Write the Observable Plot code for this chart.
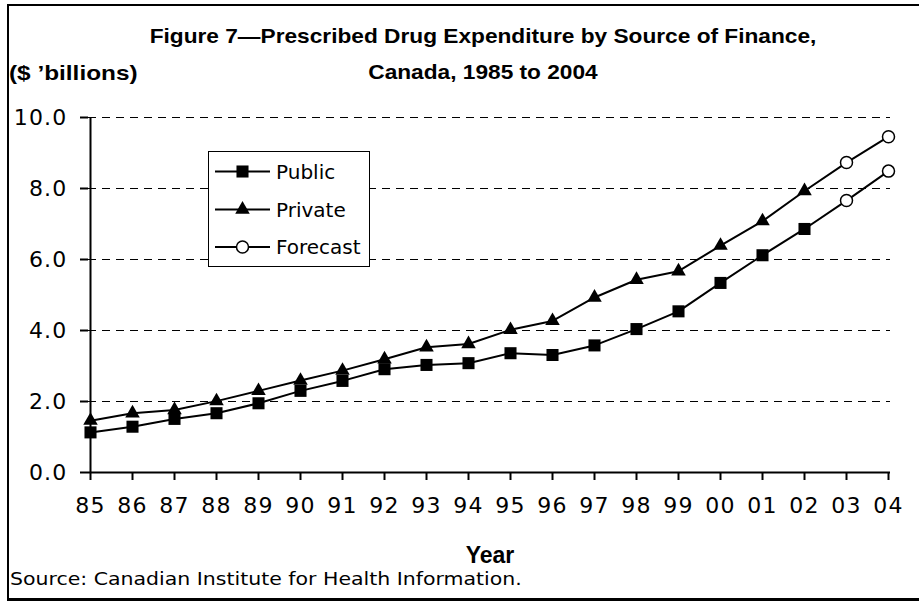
<!DOCTYPE html>
<html>
<head>
<meta charset="utf-8">
<script src="https://cdn.jsdelivr.net/npm/d3@7"></script>
<script src="https://cdn.jsdelivr.net/npm/@observablehq/plot@0.6"></script>
<style>
  html, body { margin: 0; padding: 0; background: #fff; }
  #wrap { position: relative; width: 919px; height: 601px; overflow: hidden; background: #fff; }
  #frame { position: absolute; left: 7px; top: 4px; right: -10px; height: 597px; box-sizing: border-box;
           border-left: 2px solid #000; border-top: 2px solid #000; border-bottom: 3px solid #000; pointer-events: none; }
  .bold { font-family: "Liberation Sans", Arial, sans-serif; font-weight: bold; color: #000; white-space: nowrap; }
  .tline { position: absolute; left: 0; width: 966px; text-align: center; font-size: 21px; line-height: 21px;
           transform: scaleX(1.08); transform-origin: 483px 0; }
  #t1 { top: 25px; }
  #t2 { top: 61px; }
  #unit { position: absolute; left: 9px; top: 62px; font-size: 21px; line-height: 21px; transform: scaleX(1.16); transform-origin: 0 0; }
  #xtitle { position: absolute; left: 0; width: 980px; top: 544px; text-align: center; font-size: 23px; line-height: 23px; }
  #source { position: absolute; left: 10px; top: 571px; font-family: "DejaVu Sans", sans-serif; font-size: 17.5px; line-height: 17.5px;
            color: #000; white-space: nowrap; transform: scaleX(1.17); transform-origin: 0 0; }
  #legend { position: absolute; left: 208px; top: 151px; width: 162px; height: 116px; box-sizing: border-box;
            border: 1.5px solid #000; background: #fff; }
  #plot { position: absolute; left: 0; top: 0; }
</style>
</head>
<body>
<div id="wrap">
  <div id="plot"></div>
  <div id="legend"></div>
  <div id="t1" class="bold tline">Figure 7—Prescribed Drug Expenditure by Source of Finance,</div>
  <div id="t2" class="bold tline">Canada, 1985 to 2004</div>
  <div id="unit" class="bold">($ ’billions)</div>
  <div id="xtitle" class="bold">Year</div>
  <div id="source">Source: Canadian Institute for Health Information.</div>
  <div id="frame"></div>
</div>
<script>
// ---- data ----
const years = ["85","86","87","88","89","90","91","92","93","94","95","96","97","98","99","00","01","02","03","04"];
const publicValues  = [1.13,1.29,1.51,1.67,1.95,2.30,2.58,2.91,3.03,3.08,3.36,3.31,3.58,4.04,4.54,5.34,6.12,6.86,7.66,8.49];
const privateValues = [1.46,1.67,1.76,2.01,2.30,2.59,2.87,3.19,3.53,3.62,4.02,4.27,4.93,5.43,5.67,6.39,7.08,7.93,8.73,9.46];
const forecastYears = ["03","04"];
const yTicks = [0, 2, 4, 6, 8, 10];
const gridTicks = [2, 4, 6, 8, 10];
const seriesNames = ["Public", "Private", "Forecast"];

const rows = [];
years.forEach((yr, i) => {
  rows.push({year: yr, series: "Public", value: publicValues[i], forecast: forecastYears.includes(yr)});
  rows.push({year: yr, series: "Private", value: privateValues[i], forecast: forecastYears.includes(yr)});
});
const actualPublic = rows.filter(d => d.series === "Public" && !d.forecast);
const actualPrivate = rows.filter(d => d.series === "Private" && !d.forecast);
const forecastRows = rows.filter(d => d.forecast);

const chart = Plot.plot({
  width: 919,
  height: 601,
  marginLeft: 88,
  marginRight: 29,
  marginTop: 117,
  marginBottom: 129,
  style: {fontFamily: "DejaVu Sans, sans-serif", background: "transparent", color: "#000", letterSpacing: "1.2px"},
  x: {type: "point", domain: years, padding: 0, axis: null},
  y: {domain: [0, 10], axis: null},
  marks: [
    Plot.ruleY(gridTicks, {stroke: "#000", strokeWidth: 1, strokeDasharray: "8,6"}),
    Plot.ruleX([years[0]], {y1: 0, y2: 10, stroke: "#000", strokeWidth: 2}),
    Plot.ruleY([0], {stroke: "#000", strokeWidth: 2}),
    Plot.axisY({ticks: yTicks, tickFormat: d => d.toFixed(1), tickSize: 8, tickPadding: 13, fontSize: 22, strokeWidth: 2, label: null}),
    Plot.axisX({tickSize: 8, tickPadding: 17, fontSize: 22, strokeWidth: 2, label: null}),
    Plot.line(rows, {x: "year", y: "value", z: "series", stroke: "#000", strokeWidth: 2}),
    Plot.dot(actualPublic, {x: "year", y: "value", symbol: "square", r: 6.8, fill: "#000", stroke: "none"}),
    Plot.dot(actualPrivate, {x: "year", y: "value", symbol: "triangle", r: 5.4, fill: "#000", stroke: "none"}),
    Plot.dot(forecastRows, {x: "year", y: "value", symbol: "circle", r: 6, fill: "#fff", stroke: "#000", strokeWidth: 1.5})
  ]
});
document.getElementById("plot").appendChild(chart);

// ---- legend ----
const lg = d3.select("#legend").append("svg")
  .attr("width", 159).attr("height", 113)
  .style("position", "absolute").style("left", "0px").style("top", "0px")
  .style("font-family", "DejaVu Sans, sans-serif");
const symbols = [
  {name: seriesNames[0], sym: d3.symbolSquare, size: Math.PI * 6.8 * 6.8, fill: "#000", stroke: "none"},
  {name: seriesNames[1], sym: d3.symbolTriangle, size: Math.PI * 5.4 * 5.4, fill: "#000", stroke: "none"},
  {name: seriesNames[2], sym: d3.symbolCircle, size: Math.PI * 6 * 6, fill: "#fff", stroke: "#000"}
];
const rowY = [19.5, 57.5, 95];
symbols.forEach((s, i) => {
  const g = lg.append("g").attr("transform", `translate(0,${rowY[i]})`);
  g.append("line").attr("x1", 6).attr("x2", 61).attr("y1", 0).attr("y2", 0).attr("stroke", "#000").attr("stroke-width", 2);
  g.append("path").attr("d", d3.symbol(s.sym, s.size)()).attr("transform", "translate(33.5,0)")
    .attr("fill", s.fill).attr("stroke", s.stroke).attr("stroke-width", 1.5);
  g.append("text").attr("x", 67).attr("y", 0).attr("dy", "0.36em").attr("font-size", 20).text(s.name);
});
</script>
</body>
</html>
